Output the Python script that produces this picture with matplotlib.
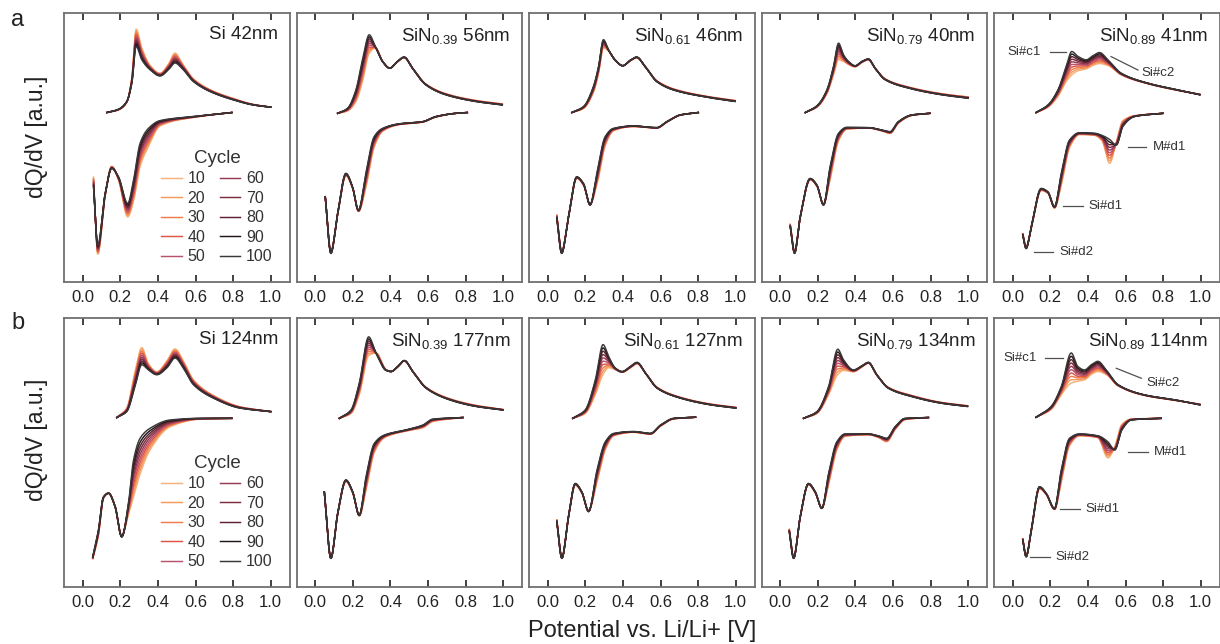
import numpy as np
import matplotlib
matplotlib.use("Agg")
import matplotlib.pyplot as plt

plt.rcParams["font.family"] = ["Liberation Sans", "DejaVu Sans"]
plt.rcParams["mathtext.fontset"] = "custom"
plt.rcParams["mathtext.rm"] = "Liberation Sans"
plt.rcParams["mathtext.it"] = "Liberation Sans:italic"
plt.rcParams["mathtext.bf"] = "Liberation Sans:bold"

# ---------------------------------------------------------------------------
# Cycles and their colours
CYCLES = [10, 20, 30, 40, 50, 60, 70, 80, 90, 100]
CYCLE_COLORS = ["#f6b27a", "#f39a5b", "#ee7b4c", "#de5445", "#b8526c",
                "#963a55", "#7b2c3e", "#5c2230", "#231719", "#3c3838"]

X_TICKS = [0.0, 0.2, 0.4, 0.6, 0.8, 1.0]
X_TICK_LABELS = ["0.0", "0.2", "0.4", "0.6", "0.8", "1.0"]

ROW_A_TITLES = ["Si 42nm", r"SiN$_{\mathrm{0.39}}$ 56nm", r"SiN$_{\mathrm{0.61}}$ 46nm",
                r"SiN$_{\mathrm{0.79}}$ 40nm", r"SiN$_{\mathrm{0.89}}$ 41nm"]
ROW_B_TITLES = ["Si 124nm", r"SiN$_{\mathrm{0.39}}$ 177nm", r"SiN$_{\mathrm{0.61}}$ 127nm",
                r"SiN$_{\mathrm{0.79}}$ 134nm", r"SiN$_{\mathrm{0.89}}$ 114nm"]

# dQ/dV (a.u., stacked) vs potential (V): charge branch (upper) and
# discharge branch (lower), cycle 10 and cycle 100 of each film.

# --- Si 42nm
A1_CH_V = [0.128, 0.19, 0.234, 0.261, 0.284, 0.314, 0.358, 0.411, 0.456, 0.491, 0.527, 0.589, 0.677, 0.801, 0.908, 1.0]
A1_CH_10 = [0.630, 0.640, 0.668, 0.760, 0.940, 0.870, 0.805, 0.776, 0.810, 0.851, 0.815, 0.755, 0.715, 0.682, 0.660, 0.650]
A1_CH_100 = [0.630, 0.642, 0.671, 0.739, 0.876, 0.826, 0.789, 0.766, 0.789, 0.814, 0.795, 0.745, 0.708, 0.677, 0.658, 0.650]
A1_DC_V = [0.057, 0.08, 0.119, 0.154, 0.19, 0.239, 0.27, 0.305, 0.349, 0.411, 0.589, 0.793]
A1_DC_10 = [0.390, 0.103, 0.320, 0.430, 0.380, 0.242, 0.300, 0.430, 0.503, 0.580, 0.612, 0.630]
A1_DC_100 = [0.354, 0.137, 0.329, 0.422, 0.391, 0.292, 0.379, 0.516, 0.571, 0.600, 0.615, 0.630]

# --- SiN0.39 56nm
A2_CH_V = [0.119, 0.172, 0.216, 0.251, 0.287, 0.319, 0.358, 0.396, 0.437, 0.473, 0.517, 0.588, 0.694, 0.853, 0.995]
A2_CH_10 = [0.627, 0.636, 0.670, 0.745, 0.850, 0.870, 0.820, 0.795, 0.818, 0.834, 0.795, 0.736, 0.700, 0.675, 0.662]
A2_CH_100 = [0.627, 0.646, 0.714, 0.826, 0.919, 0.876, 0.820, 0.795, 0.820, 0.836, 0.795, 0.733, 0.696, 0.671, 0.658]
A2_DC_V = [0.053, 0.083, 0.119, 0.163, 0.198, 0.230, 0.269, 0.313, 0.358, 0.446, 0.570, 0.641, 0.747, 0.809]
A2_DC_10 = [0.317, 0.115, 0.250, 0.395, 0.350, 0.262, 0.350, 0.500, 0.560, 0.585, 0.594, 0.613, 0.627, 0.630]
A2_DC_100 = [0.317, 0.106, 0.255, 0.404, 0.354, 0.267, 0.404, 0.540, 0.571, 0.588, 0.596, 0.615, 0.627, 0.630]

# --- SiN0.61 46nm
A3_CH_V = [0.128, 0.19, 0.243, 0.27, 0.296, 0.323, 0.358, 0.399, 0.438, 0.473, 0.518, 0.58, 0.668, 0.846, 0.996]
A3_CH_10 = [0.630, 0.645, 0.705, 0.775, 0.870, 0.860, 0.824, 0.804, 0.822, 0.834, 0.801, 0.748, 0.718, 0.690, 0.675]
A3_CH_100 = [0.630, 0.652, 0.727, 0.801, 0.901, 0.863, 0.826, 0.804, 0.824, 0.836, 0.801, 0.745, 0.714, 0.687, 0.671]
A3_DC_V = [0.048, 0.074, 0.11, 0.154, 0.19, 0.225, 0.261, 0.305, 0.349, 0.456, 0.58, 0.633, 0.704, 0.801]
A3_DC_10 = [0.250, 0.115, 0.240, 0.385, 0.360, 0.290, 0.360, 0.505, 0.562, 0.578, 0.572, 0.594, 0.620, 0.630]
A3_DC_100 = [0.236, 0.106, 0.242, 0.391, 0.366, 0.286, 0.404, 0.540, 0.571, 0.580, 0.574, 0.596, 0.621, 0.630]

# --- SiN0.79 40nm
A4_CH_V = [0.133, 0.195, 0.248, 0.283, 0.31, 0.336, 0.363, 0.398, 0.434, 0.469, 0.504, 0.558, 0.681, 0.858, 1.0]
A4_CH_10 = [0.630, 0.650, 0.700, 0.770, 0.826, 0.820, 0.808, 0.800, 0.816, 0.826, 0.795, 0.755, 0.725, 0.700, 0.688]
A4_CH_100 = [0.630, 0.655, 0.714, 0.801, 0.888, 0.845, 0.820, 0.804, 0.820, 0.829, 0.795, 0.752, 0.721, 0.696, 0.683]
A4_DC_V = [0.053, 0.076, 0.106, 0.159, 0.195, 0.23, 0.265, 0.31, 0.354, 0.469, 0.54, 0.584, 0.628, 0.699, 0.796]
A4_DC_10 = [0.215, 0.115, 0.240, 0.380, 0.356, 0.290, 0.380, 0.525, 0.568, 0.572, 0.562, 0.552, 0.590, 0.619, 0.627]
A4_DC_100 = [0.205, 0.106, 0.242, 0.385, 0.360, 0.286, 0.429, 0.553, 0.575, 0.574, 0.565, 0.559, 0.596, 0.621, 0.627]

# --- SiN0.89 41nm
A5_CH_V = [0.124, 0.187, 0.24, 0.284, 0.314, 0.346, 0.391, 0.426, 0.462, 0.506, 0.577, 0.719, 0.879, 0.995]
A5_CH_10 = [0.630, 0.650, 0.690, 0.745, 0.770, 0.785, 0.792, 0.805, 0.812, 0.805, 0.770, 0.737, 0.712, 0.698]
A5_CH_100 = [0.630, 0.658, 0.714, 0.801, 0.857, 0.839, 0.826, 0.841, 0.853, 0.826, 0.776, 0.739, 0.714, 0.696]
A5_DC_V = [0.053, 0.071, 0.098, 0.151, 0.187, 0.222, 0.258, 0.302, 0.355, 0.435, 0.475, 0.515, 0.551, 0.586, 0.648, 0.799]
A5_DC_10 = [0.180, 0.130, 0.200, 0.340, 0.330, 0.275, 0.360, 0.500, 0.548, 0.545, 0.525, 0.441, 0.520, 0.600, 0.618, 0.627]
A5_DC_100 = [0.174, 0.124, 0.205, 0.348, 0.335, 0.280, 0.404, 0.528, 0.555, 0.553, 0.545, 0.530, 0.509, 0.578, 0.615, 0.627]

# --- Si 124nm
B1_CH_V = [0.181, 0.234, 0.278, 0.314, 0.349, 0.394, 0.447, 0.491, 0.535, 0.589, 0.695, 0.837, 1.0]
B1_CH_10 = [0.630, 0.665, 0.800, 0.890, 0.830, 0.800, 0.840, 0.885, 0.840, 0.770, 0.712, 0.670, 0.652]
B1_CH_100 = [0.630, 0.652, 0.745, 0.826, 0.807, 0.789, 0.814, 0.851, 0.814, 0.752, 0.702, 0.665, 0.652]
B1_DC_V = [0.053, 0.083, 0.11, 0.137, 0.172, 0.207, 0.243, 0.27, 0.305, 0.358, 0.465, 0.624, 0.793]
B1_DC_10 = [0.105, 0.190, 0.330, 0.350, 0.300, 0.190, 0.270, 0.335, 0.420, 0.510, 0.596, 0.624, 0.627]
B1_DC_100 = [0.112, 0.211, 0.335, 0.348, 0.298, 0.186, 0.311, 0.472, 0.553, 0.590, 0.621, 0.627, 0.627]

# --- SiN0.39 177nm
B2_CH_V = [0.128, 0.19, 0.234, 0.284, 0.323, 0.377, 0.403, 0.439, 0.474, 0.519, 0.59, 0.714, 0.856, 0.998]
B2_CH_10 = [0.627, 0.645, 0.715, 0.860, 0.870, 0.808, 0.801, 0.818, 0.840, 0.801, 0.742, 0.700, 0.675, 0.660]
B2_CH_100 = [0.627, 0.658, 0.758, 0.930, 0.870, 0.805, 0.801, 0.820, 0.842, 0.801, 0.739, 0.696, 0.671, 0.658]
B2_DC_V = [0.048, 0.083, 0.119, 0.163, 0.199, 0.234, 0.270, 0.314, 0.368, 0.483, 0.572, 0.625, 0.785]
B2_DC_10 = [0.354, 0.110, 0.270, 0.392, 0.350, 0.265, 0.360, 0.500, 0.555, 0.580, 0.592, 0.615, 0.630]
B2_DC_100 = [0.354, 0.106, 0.273, 0.398, 0.354, 0.267, 0.410, 0.534, 0.565, 0.584, 0.602, 0.624, 0.630]

# --- SiN0.61 127nm
B3_CH_V = [0.133, 0.199, 0.253, 0.294, 0.324, 0.359, 0.395, 0.44, 0.475, 0.52, 0.582, 0.706, 0.867, 1.0]
B3_CH_10 = [0.627, 0.645, 0.715, 0.790, 0.815, 0.808, 0.798, 0.815, 0.830, 0.795, 0.742, 0.705, 0.680, 0.668]
B3_CH_100 = [0.627, 0.658, 0.770, 0.901, 0.857, 0.814, 0.801, 0.820, 0.835, 0.795, 0.739, 0.702, 0.677, 0.665]
B3_DC_V = [0.048, 0.075, 0.11, 0.146, 0.181, 0.217, 0.262, 0.306, 0.351, 0.457, 0.546, 0.6, 0.671, 0.786]
B3_DC_10 = [0.250, 0.112, 0.258, 0.378, 0.350, 0.285, 0.390, 0.510, 0.562, 0.575, 0.568, 0.598, 0.625, 0.631]
B3_DC_100 = [0.242, 0.106, 0.261, 0.385, 0.354, 0.280, 0.435, 0.540, 0.571, 0.578, 0.571, 0.602, 0.627, 0.631]

# --- SiN0.79 134nm
B4_CH_V = [0.124, 0.195, 0.257, 0.306, 0.336, 0.389, 0.434, 0.469, 0.513, 0.575, 0.699, 0.858, 0.996]
B4_CH_10 = [0.627, 0.645, 0.715, 0.790, 0.805, 0.800, 0.818, 0.832, 0.789, 0.742, 0.712, 0.686, 0.674]
B4_CH_100 = [0.627, 0.652, 0.745, 0.884, 0.845, 0.807, 0.822, 0.835, 0.789, 0.739, 0.708, 0.683, 0.671]
B4_DC_V = [0.048, 0.071, 0.106, 0.15, 0.186, 0.221, 0.257, 0.301, 0.345, 0.469, 0.522, 0.566, 0.611, 0.664, 0.788]
B4_DC_10 = [0.215, 0.112, 0.258, 0.380, 0.350, 0.295, 0.380, 0.510, 0.560, 0.566, 0.556, 0.540, 0.585, 0.622, 0.630]
B4_DC_100 = [0.205, 0.106, 0.261, 0.385, 0.354, 0.292, 0.422, 0.540, 0.569, 0.569, 0.562, 0.553, 0.596, 0.627, 0.630]

# --- SiN0.89 114nm
B5_CH_V = [0.124, 0.204, 0.258, 0.311, 0.346, 0.382, 0.417, 0.453, 0.497, 0.56, 0.702, 0.861, 0.995]
B5_CH_10 = [0.631, 0.660, 0.715, 0.758, 0.765, 0.770, 0.790, 0.801, 0.790, 0.748, 0.712, 0.694, 0.680]
B5_CH_100 = [0.631, 0.671, 0.745, 0.870, 0.820, 0.807, 0.826, 0.839, 0.807, 0.752, 0.714, 0.696, 0.677]
B5_DC_V = [0.053, 0.071, 0.098, 0.142, 0.178, 0.222, 0.258, 0.302, 0.355, 0.453, 0.506, 0.542, 0.581, 0.631, 0.79]
B5_DC_10 = [0.180, 0.118, 0.205, 0.365, 0.344, 0.288, 0.390, 0.525, 0.562, 0.555, 0.480, 0.520, 0.605, 0.624, 0.627]
B5_DC_100 = [0.174, 0.112, 0.211, 0.373, 0.348, 0.292, 0.435, 0.553, 0.569, 0.562, 0.540, 0.509, 0.584, 0.621, 0.627]

PANELS_A = [
    (A1_CH_V, A1_CH_10, A1_CH_100, A1_DC_V, A1_DC_10, A1_DC_100),
    (A2_CH_V, A2_CH_10, A2_CH_100, A2_DC_V, A2_DC_10, A2_DC_100),
    (A3_CH_V, A3_CH_10, A3_CH_100, A3_DC_V, A3_DC_10, A3_DC_100),
    (A4_CH_V, A4_CH_10, A4_CH_100, A4_DC_V, A4_DC_10, A4_DC_100),
    (A5_CH_V, A5_CH_10, A5_CH_100, A5_DC_V, A5_DC_10, A5_DC_100),
]
PANELS_B = [
    (B1_CH_V, B1_CH_10, B1_CH_100, B1_DC_V, B1_DC_10, B1_DC_100),
    (B2_CH_V, B2_CH_10, B2_CH_100, B2_DC_V, B2_DC_10, B2_DC_100),
    (B3_CH_V, B3_CH_10, B3_CH_100, B3_DC_V, B3_DC_10, B3_DC_100),
    (B4_CH_V, B4_CH_10, B4_CH_100, B4_DC_V, B4_DC_10, B4_DC_100),
    (B5_CH_V, B5_CH_10, B5_CH_100, B5_DC_V, B5_DC_10, B5_DC_100),
]

# Peak labels in the SiN0.89 panels: (text, line x0, x1, line y0, y1, text x, text y, ha)
PEAK_LABELS_A = [
    ("Si#c1", 0.196, 0.284, 0.856, 0.856, 0.151, 0.856, "right"),
    ("Si#c2", 0.523, 0.666, 0.838, 0.788, 0.687, 0.778, "left"),
    ("M#d1", 0.613, 0.710, 0.503, 0.503, 0.746, 0.503, "left"),
    ("Si#d1", 0.266, 0.373, 0.283, 0.283, 0.403, 0.283, "left"),
    ("Si#d2", 0.115, 0.213, 0.110, 0.110, 0.249, 0.110, "left"),
]
PEAK_LABELS_B = [
    ("Si#c1", 0.169, 0.266, 0.852, 0.852, 0.130, 0.852, "right"),
    ("Si#c2", 0.551, 0.684, 0.813, 0.776, 0.710, 0.757, "left"),
    ("M#d1", 0.613, 0.719, 0.503, 0.503, 0.751, 0.503, "left"),
    ("Si#d1", 0.249, 0.355, 0.290, 0.290, 0.389, 0.290, "left"),
    ("Si#d2", 0.089, 0.196, 0.110, 0.110, 0.229, 0.110, "left"),
]


def smooth_curve(x, y, n=400):
    """Monotone piecewise-cubic (Fritsch-Carlson) curve through the points."""
    x = np.asarray(x, float)
    y = np.asarray(y, float)
    h = np.diff(x)
    d = np.diff(y) / h
    m = np.zeros_like(y)
    for k in range(1, len(x) - 1):
        if d[k - 1] * d[k] > 0:
            w1 = 2 * h[k] + h[k - 1]
            w2 = h[k] + 2 * h[k - 1]
            m[k] = (w1 + w2) / (w1 / d[k - 1] + w2 / d[k])
    m[0] = d[0]
    m[-1] = d[-1]
    xs = np.linspace(x[0], x[-1], n)
    i = np.clip(np.searchsorted(x, xs) - 1, 0, len(h) - 1)
    t = (xs - x[i]) / h[i]
    h00 = 2 * t**3 - 3 * t**2 + 1
    h10 = t**3 - 2 * t**2 + t
    h01 = -2 * t**3 + 3 * t**2
    h11 = t**3 - t**2
    ys = h00 * y[i] + h10 * h[i] * m[i] + h01 * y[i + 1] + h11 * h[i] * m[i + 1]
    return xs, ys


W, H = 1220, 644
fig = plt.figure(figsize=(W / 100, H / 100), dpi=100)

AX_W = 225.5
AX_PITCH = 232.5
AX_LEFT0 = 64
ROWS = [(13, 282), (318, 587)]  # top, bottom in pixels

SPINE_COLOR = "#707070"


def make_axes(row, col):
    top, bottom = ROWS[row]
    left = AX_LEFT0 + col * AX_PITCH
    return fig.add_axes([left / W, 1 - bottom / H, AX_W / W, (bottom - top) / H])


def draw_panel(ax, panel, title):
    ch_v, ch_10, ch_100, dc_v, dc_10, dc_100 = panel
    for c, col in zip(CYCLES, CYCLE_COLORS):
        w = (c - CYCLES[0]) / (CYCLES[-1] - CYCLES[0])
        ych = (1 - w) * np.asarray(ch_10) + w * np.asarray(ch_100)
        ydc = (1 - w) * np.asarray(dc_10) + w * np.asarray(dc_100)
        xs, ys = smooth_curve(ch_v, ych)
        ax.plot(xs, ys, color=col, lw=1.05, label=str(c))
        xs, ys = smooth_curve(dc_v, ydc)
        ax.plot(xs, ys, color=col, lw=1.05)
    ax.set_xlim(-0.1, 1.1)
    ax.set_ylim(0, 1)
    ax.set_yticks([])
    ax.set_xticks(X_TICKS)
    ax.set_xticklabels(X_TICK_LABELS)
    ax.tick_params(axis="x", direction="in", top=True, bottom=True, length=5,
                   width=1.3, color="#333333", labelsize=12, labelcolor="#222222", pad=6)
    for s in ax.spines.values():
        s.set_color(SPINE_COLOR)
        s.set_linewidth(1.3)
    ax.text(0.95, 0.952, title, transform=ax.transAxes, ha="right", va="top",
            fontsize=13.5, color="#222222")


def draw_labels(ax, labels):
    for txt, x0, x1, y0, y1, tx, ty, ha in labels:
        ax.plot([x0, x1], [y0, y1], color="#505050", lw=0.9)
        ax.text(tx, ty, txt, ha=ha, va="center", fontsize=9.5, color="#333333")


for row, (panels, titles, labels) in enumerate(
        [(PANELS_A, ROW_A_TITLES, PEAK_LABELS_A), (PANELS_B, ROW_B_TITLES, PEAK_LABELS_B)]):
    for col in range(5):
        ax = make_axes(row, col)
        draw_panel(ax, panels[col], titles[col])
        if col == 4:
            draw_labels(ax, labels)
        if col == 0:
            leg = ax.legend(ncol=2, loc="lower right", bbox_to_anchor=(0.975, 0.025),
                            frameon=False, title="Cycle", fontsize=11.5,
                            title_fontsize=13.5, handlelength=1.3, handletextpad=0.35,
                            columnspacing=0.9, labelspacing=0.28, borderpad=0.2)
            for t in leg.get_texts():
                t.set_color("#333333")
            leg.get_title().set_color("#333333")

fig.text(18 / W, 1 - 20 / H, "a", fontsize=17, ha="center", va="center", color="#222222")
fig.text(18 / W, 1 - 323 / H, "b", fontsize=17, ha="center", va="center", color="#222222")
fig.text(37 / W, 1 - 137 / H, "dQ/dV [a.u.]", rotation=90, fontsize=16.5,
         ha="center", va="center", color="#222222")
fig.text(37 / W, 1 - 440 / H, "dQ/dV [a.u.]", rotation=90, fontsize=16.5,
         ha="center", va="center", color="#222222")
fig.text(642 / W, 1 - 631 / H, "Potential vs. Li/Li+ [V]", fontsize=17,
         ha="center", va="center", color="#222222")

fig.savefig("out.png", dpi=100)
